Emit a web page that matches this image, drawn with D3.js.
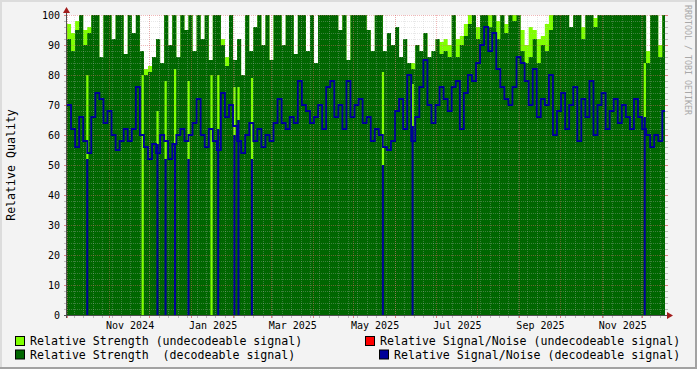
<!DOCTYPE html>
<html lang="en">
<head>
<meta charset="UTF-8">
<title>Relative Quality</title>
<script src="https://d3js.org/d3.v7.min.js"></script>
<style>
  body { margin: 0; background: #f3f3f3; }
  svg { display: block; }
  text { font-family: "DejaVu Sans Mono", monospace; }
</style>
</head>
<body>
<svg id="chart" width="697" height="369"></svg>
<script>
// samples every 3 days starting on sampleStart
const sampleStart = "2024-10-01";
const sampleEnd = "2025-12-18";
const sampleStepDays = 3;

const strengthDecodeable = [
  92, 88, 95, 100, 90, 94, 100, 100, 86, 100,
  100, 92, 100, 100, 87, 100, 94, 100, 88, 80,
  81, 86, 92, 84, 100, 90, 100, 86, 100, 95,
  100, 88, 100, 92, 100, 85, 100, 100, 90, 83,
  100, 85, 92, 80, 100, 88, 96, 100, 90, 100,
  85, 100, 100, 90, 100, 100, 87, 100, 100, 88,
  100, 84, 100, 100, 100, 100, 100, 95, 100, 85,
  100, 100, 100, 100, 95, 88, 100, 100, 88, 94,
  90, 96, 86, 92, 84, 82, 90, 88, 94, 86,
  88, 92, 87, 88, 86, 100, 86, 90, 93, 97,
  100, 92, 100, 100, 96, 100, 92, 100, 94, 100,
  98, 100, 88, 84, 86, 92, 84, 90, 88, 95,
  100, 100, 100, 100, 96, 100, 100, 92, 100, 100,
  96, 100, 100, 100, 100, 100, 100, 100, 100, 100,
  100, 100, 100, 84, 100, 100, 86, 100
];

const strengthUndecodeable = [
  97, 94, 98, 100, 95, 96, 100, 100, 86, 100,
  100, 92, 100, 100, 87, 100, 94, 100, 88, 82,
  83, 86, 92, 84, 100, 90, 100, 86, 100, 95,
  100, 88, 100, 92, 100, 85, 100, 100, 92, 86,
  100, 85, 92, 80, 100, 88, 96, 100, 90, 100,
  85, 100, 100, 90, 100, 100, 87, 100, 100, 88,
  100, 84, 100, 100, 100, 100, 100, 95, 100, 85,
  100, 100, 100, 100, 95, 88, 100, 100, 88, 94,
  90, 96, 86, 92, 84, 84, 90, 88, 94, 86,
  88, 92, 91, 92, 90, 100, 92, 93, 97, 100,
  100, 96, 100, 100, 100, 100, 98, 100, 97, 100,
  100, 100, 95, 90, 96, 95, 92, 93, 97, 100,
  100, 100, 100, 100, 96, 100, 100, 96, 100, 100,
  99, 100, 100, 100, 100, 100, 100, 100, 100, 100,
  100, 100, 100, 88, 100, 100, 90, 100
];

const snrDecodeable = [
  70, 62, 56, 66, 58, 54, 66, 74, 72, 64,
  68, 60, 55, 58, 62, 58, 62, 76, 60, 56,
  52, 57, 54, 60, 58, 52, 57, 60, 62, 58,
  60, 64, 72, 60, 56, 62, 58, 55, 74, 66,
  70, 63, 58, 54, 60, 64, 58, 62, 56, 60,
  58, 64, 72, 64, 62, 66, 64, 78, 70, 68,
  64, 66, 70, 62, 76, 78, 66, 70, 62, 78,
  66, 70, 72, 64, 66, 58, 62, 60, 56, 55,
  58, 68, 72, 62, 80, 58, 66, 76, 85, 70,
  64, 70, 76, 72, 68, 76, 78, 62, 74, 80,
  78, 84, 90, 96, 88, 94, 82, 76, 72, 70,
  76, 86, 84, 78, 70, 82, 66, 72, 70, 80,
  60, 68, 74, 62, 70, 76, 58, 72, 66, 78,
  60, 70, 74, 62, 68, 72, 64, 70, 66, 62,
  72, 66, 62, 60, 56, 60, 58, 68
];

// single days where the decodeable signal dropped out
const dropoutDates = ["2024-10-16", "2024-11-26", "2024-12-07", "2024-12-13", "2024-12-20",
  "2024-12-30", "2025-01-16", "2025-01-21", "2025-02-02", "2025-02-05", "2025-02-15",
  "2025-05-23", "2025-06-14", "2025-12-03"];
const dropoutStrength = [80, 80, 68, 78, 82, 78, 80, 80, 76, 76, 79, 81, 77, 84];
const dropoutSnr = [52, null, 57, 52, 57, 52, null, 62, 60, 65, 52, 50, 63, 66];

const monthLabels = ["Nov 2024", "Jan 2025", "Mar 2025", "May 2025", "Jul 2025", "Sep 2025", "Nov 2025"];
const yTickValues = [0, 10, 20, 30, 40, 50, 60, 70, 80, 90, 100];

const legendLabels = [
  "Relative Strength (undecodeable signal)",
  "Relative Strength  (decodeable signal)",
  "Relative Signal/Noise (undecodeable signal)",
  "Relative Signal/Noise (decodeable signal)"
];
const legendColors = ["#80ff00", "#006600", "#ff0000", "#000099"];

const W = 697, H = 369;
const plot = { left: 67, right: 665, top: 15, bottom: 315 };
const svg = d3.select("#chart");
const parseDay = d3.timeParse("%Y-%m-%d");
const parseMonth = d3.timeParse("%b %Y");
const t0 = parseDay(sampleStart);
const tEnd = parseDay(sampleEnd);

const x = d3.scaleTime().domain([t0, tEnd]).range([plot.left, plot.right]);
const y = d3.scaleLinear().domain([0, 100]).range([plot.bottom, plot.top]);

function toSeries(values) {
  const pts = values.map((v, i) => ({ date: d3.timeDay.offset(t0, i * sampleStepDays), v: v }));
  pts.push({ date: tEnd, v: values[values.length - 1] });
  return pts;
}

// background + frame
svg.append("rect").attr("width", W).attr("height", H).attr("fill", "#f3f3f3");
svg.append("rect").attr("x", 0).attr("y", 0).attr("width", W).attr("height", 2).attr("fill", "#dcdcdc");
svg.append("rect").attr("x", 0).attr("y", 0).attr("width", 2).attr("height", H).attr("fill", "#dcdcdc");
svg.append("rect").attr("x", W - 2).attr("y", 0).attr("width", 2).attr("height", H).attr("fill", "#a2a2a2");
svg.append("rect").attr("x", 0).attr("y", H - 2).attr("width", W).attr("height", 2).attr("fill", "#a2a2a2");

// canvas
svg.append("rect")
  .attr("x", plot.left).attr("y", plot.top)
  .attr("width", plot.right - plot.left).attr("height", plot.bottom - plot.top)
  .attr("fill", "#ffffff");

const area = d3.area()
  .x(d => x(d.date))
  .y0(y(0))
  .y1(d => y(d.v))
  .curve(d3.curveStepAfter);

svg.append("path").datum(toSeries(strengthUndecodeable))
  .attr("d", area).attr("fill", "#80ff00");
svg.append("path").datum(toSeries(strengthDecodeable))
  .attr("d", area).attr("fill", "#006600");

const drops = dropoutDates.map((d, i) => ({ date: parseDay(d), top: dropoutStrength[i], snr: dropoutSnr[i] }));

svg.append("g").selectAll("rect")
  .data(drops)
  .join("rect")
  .attr("x", d => x(d.date) - 1)
  .attr("width", 2.2)
  .attr("y", d => y(d.top))
  .attr("height", d => y(d.snr == null ? 0 : d.snr) - y(d.top))
  .attr("fill", "#80ff00");

// grid
const grid = svg.append("g");
const minorY = d3.range(0, 101, 2).filter(v => v % 10 !== 0);
const majorY = yTickValues;
const weeks = d3.timeWeek.range(t0, tEnd);
const months = d3.timeMonth.range(t0, tEnd);
const px = v => Math.round(v) + 0.5;
const minorColor = "rgba(185,185,185,0.33)";
const majorColor = "rgba(225,100,100,0.45)";

grid.selectAll(".hmin").data(minorY).join("line")
  .attr("x1", plot.left).attr("x2", plot.right)
  .attr("y1", d => px(y(d))).attr("y2", d => px(y(d)))
  .attr("stroke", minorColor).attr("stroke-dasharray", "1,1");
grid.selectAll(".vmin").data(weeks).join("line")
  .attr("y1", plot.top).attr("y2", plot.bottom)
  .attr("x1", d => px(x(d))).attr("x2", d => px(x(d)))
  .attr("stroke", minorColor).attr("stroke-dasharray", "1,1");
grid.selectAll(".hmaj").data(majorY).join("line")
  .attr("x1", plot.left).attr("x2", plot.right)
  .attr("y1", d => px(y(d))).attr("y2", d => px(y(d)))
  .attr("stroke", majorColor).attr("stroke-dasharray", "1,1");
grid.selectAll(".vmaj").data(months).join("line")
  .attr("y1", plot.top).attr("y2", plot.bottom)
  .attr("x1", d => px(x(d))).attr("x2", d => px(x(d)))
  .attr("stroke", majorColor).attr("stroke-dasharray", "1,1");

// SNR line
const line = d3.line()
  .x(d => x(d.date))
  .y(d => y(d.v))
  .curve(d3.curveStepAfter);

svg.append("path").datum(toSeries(snrDecodeable))
  .attr("d", line)
  .attr("fill", "none")
  .attr("stroke", "#000099")
  .attr("stroke-width", 1.8);

svg.append("g").selectAll("line")
  .data(drops.filter(d => d.snr != null))
  .join("line")
  .attr("x1", d => x(d.date)).attr("x2", d => x(d.date))
  .attr("y1", d => y(d.snr)).attr("y2", y(0))
  .attr("stroke", "#000099")
  .attr("stroke-width", 2);

// ticks
const ticks = svg.append("g");
ticks.selectAll(".ylt").data(d3.range(0, 101, 2)).join("line")
  .attr("x1", plot.left - 3).attr("x2", plot.left)
  .attr("y1", d => px(y(d))).attr("y2", d => px(y(d)))
  .attr("stroke", d => d % 10 === 0 ? "#e08080" : "#bbbbbb");
ticks.selectAll(".yrt").data(d3.range(0, 101, 2)).join("line")
  .attr("x1", plot.right).attr("x2", plot.right + 3)
  .attr("y1", d => px(y(d))).attr("y2", d => px(y(d)))
  .attr("stroke", d => d % 10 === 0 ? "#e08080" : "#bbbbbb");
ticks.selectAll(".xw").data(weeks).join("line")
  .attr("y1", plot.bottom).attr("y2", plot.bottom + 3)
  .attr("x1", d => px(x(d))).attr("x2", d => px(x(d)))
  .attr("stroke", "#bbbbbb");
ticks.selectAll(".xm").data(months).join("line")
  .attr("y1", plot.bottom).attr("y2", plot.bottom + 3)
  .attr("x1", d => px(x(d))).attr("x2", d => px(x(d)))
  .attr("stroke", "#e08080");

// axes
svg.append("line")
  .attr("x1", plot.left - 3).attr("x2", plot.right + 3)
  .attr("y1", plot.bottom + 0.5).attr("y2", plot.bottom + 0.5)
  .attr("stroke", "#505050");
svg.append("line")
  .attr("x1", plot.left - 0.5).attr("x2", plot.left - 0.5)
  .attr("y1", plot.bottom + 3).attr("y2", plot.top - 3)
  .attr("stroke", "#505050");
svg.append("path")
  .attr("d", `M${plot.right + 2},${plot.bottom - 3}L${plot.right + 8},${plot.bottom + 0.5}L${plot.right + 2},${plot.bottom + 4}Z`)
  .attr("fill", "#a31c1c");
svg.append("path")
  .attr("d", `M${plot.left - 4},${plot.top - 2}L${plot.left - 0.5},${plot.top - 8}L${plot.left + 3},${plot.top - 2}Z`)
  .attr("fill", "#a31c1c");

// tick labels
svg.append("g").selectAll("text").data(yTickValues).join("text")
  .attr("x", 60).attr("y", d => y(d) + 3.6)
  .attr("text-anchor", "end")
  .attr("font-size", "10px")
  .attr("fill", "#000")
  .text(d => d);

svg.append("g").selectAll("text").data(monthLabels).join("text")
  .attr("x", d => {
    const m = parseMonth(d);
    return (x(m) + x(d3.timeMonth.offset(m, 1))) / 2 + 1;
  })
  .attr("y", 328.6)
  .attr("text-anchor", "middle")
  .attr("font-size", "10px")
  .attr("fill", "#000")
  .text(d => d);

// axis title + watermark
svg.append("text")
  .attr("transform", "translate(14.5,165) rotate(-90)")
  .attr("text-anchor", "middle")
  .attr("font-size", "11.6px")
  .attr("fill", "#000")
  .text("Relative Quality");

svg.append("text")
  .attr("transform", "translate(685,5) rotate(90)")
  .attr("text-anchor", "start")
  .attr("font-size", "8.3px")
  .attr("fill", "#a8a8a8")
  .text("RRDTOOL / TOBI OETIKER");

// legend
const legendPos = [
  { bx: 15.5, tx: 30, by: 336.5, ty: 345 },
  { bx: 15.5, tx: 30, by: 350, ty: 358.5 },
  { bx: 365.5, tx: 380, by: 336.5, ty: 345 },
  { bx: 379.5, tx: 394, by: 350, ty: 358.5 }
];
const legend = svg.append("g");
legend.selectAll("rect").data(legendLabels).join("rect")
  .attr("x", (d, i) => legendPos[i].bx)
  .attr("y", (d, i) => legendPos[i].by)
  .attr("width", 9).attr("height", 9)
  .attr("fill", (d, i) => legendColors[i])
  .attr("stroke", "#000");
legend.selectAll("text").data(legendLabels).join("text")
  .attr("x", (d, i) => legendPos[i].tx)
  .attr("y", (d, i) => legendPos[i].ty)
  .attr("font-size", "11.6px")
  .attr("fill", "#000")
  .attr("xml:space", "preserve")
  .style("white-space", "pre")
  .text(d => d);
</script>
</body>
</html>
